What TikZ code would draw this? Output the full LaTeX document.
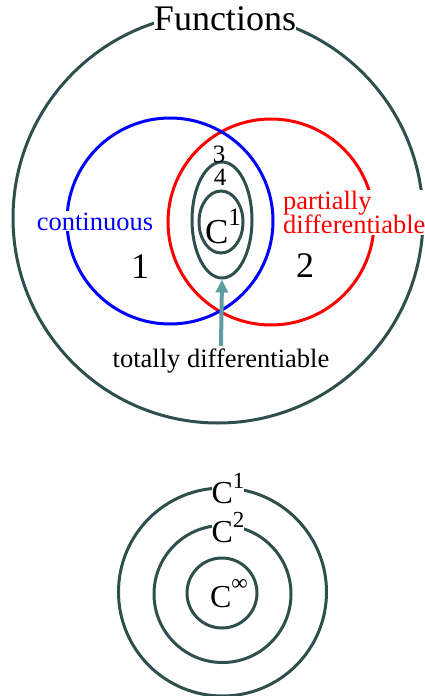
\documentclass[tikz,border=0pt]{standalone}
\usepackage{fontspec}
\setmainfont{Liberation Serif}
\usetikzlibrary{shapes.geometric,arrows.meta}
\definecolor{dslate}{HTML}{2F4F4F}
\definecolor{teal2}{HTML}{5F9EA0}
\newcommand{\fs}[1]{\fontsize{#1}{#1}\selectfont}
\tikzset{
  ring/.style={draw=dslate, line width=3pt},
  lbl/.style={inner sep=1pt, anchor=base},
  wlbl/.style={inner sep=1pt, anchor=base, fill=white},
}
\begin{document}
\begin{tikzpicture}[x=1pt,y=-1pt]
\useasboundingbox (0,0) rectangle (425,696);
% top diagram
\draw[ring] (218,218) circle[radius=205pt];
\draw[red, line width=3pt] (271,222) circle[radius=103pt];
\draw[blue, line width=3pt] (170,221) circle[radius=103pt];
\node[ring, ellipse, inner sep=0pt, minimum width=60pt, minimum height=116pt] (outer) at (222,220) {};
\node[ring, ellipse, inner sep=0pt, minimum width=44pt, minimum height=62pt] (inner) at (221,222) {};
\node[wlbl, fill=white, inner sep=0pt] (fn) at (225,30) {\fs{36}Functions};
\node[wlbl, text=blue] (cont) at (95,230) {\fs{26.5}continuous};
\node[fill=white, inner sep=1pt, text=red, align=left, anchor=north west] (pd) at (282,190) {\fs{26.5}partially\\[-1pt]\fs{26.5}differentiable};
\node[lbl] (one) at (140,278) {\fs{36}1};
\node[lbl] (two) at (305,277) {\fs{36}2};
\node[lbl] (three) at (219,162) {\fs{25}3};
\node[lbl] (four) at (220,185) {\fs{25}4};
\node[lbl] (c1a) at (223,243) {\fs{35}C\raisebox{18pt}{\fs{25}1}};
\node[lbl] (td) at (221,367) {\fs{26.5}totally differentiable};
\draw[teal2, line width=4pt, -{Triangle[width=12pt,length=13pt]}] (221,346) -- (outer.south);
% bottom diagram
\draw[ring] (222.5,592) circle[radius=104pt];
\draw[ring] (222.5,594) circle[radius=68.5pt];
\draw[ring] (222,593) circle[radius=35pt];
\node[wlbl, inner sep=0pt] (b1) at (228,503) {\fs{32}C\raisebox{15pt}{\fs{23}1}};
\node[wlbl, inner sep=0pt] (b2) at (228,542) {\fs{32}C\raisebox{15pt}{\fs{23}2}};
\node[lbl] (binf) at (229,607) {\fs{32}C\raisebox{17pt}{\fs{23}∞}};
\end{tikzpicture}
\end{document}
